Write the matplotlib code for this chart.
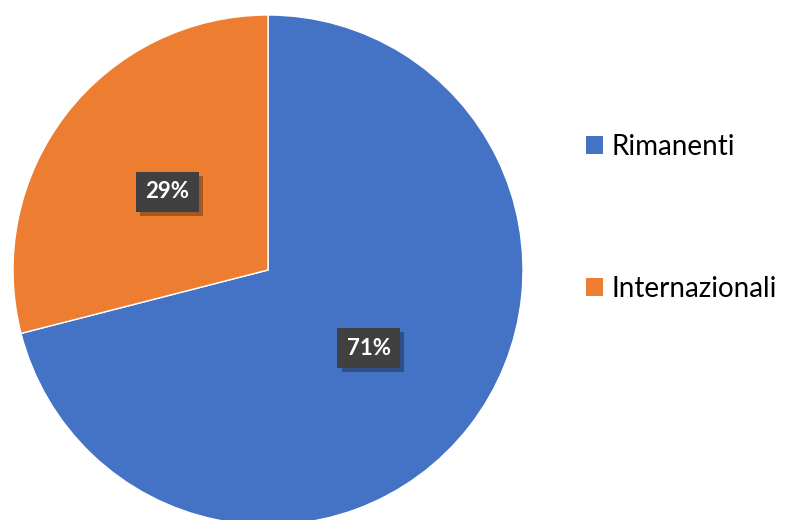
import matplotlib.pyplot as plt
from matplotlib import patheffects
from matplotlib.patches import Patch

labels = ["Rimanenti", "Internazionali"]
shares = [71, 29]
colors = ["#4472C4", "#ED7D31"]

W, H = 795, 520
fig = plt.figure(figsize=(W / 100, H / 100), dpi=100)
fig.patch.set_facecolor("white")
ax = fig.add_axes([0, 0, 1, 1])

wedges, _, autotexts = ax.pie(
    shares,
    colors=colors,
    startangle=90,
    counterclock=False,
    center=(268, 250),
    radius=255,
    autopct="%1.0f%%",
    pctdistance=0.5,
    wedgeprops=dict(edgecolor="white", linewidth=1),
    frame=True,
)
ax.set_xlim(0, W)
ax.set_ylim(0, H)
ax.set_aspect("equal")
ax.axis("off")

for t in autotexts:
    t.set_color("white")
    t.set_fontweight("bold")
    t.set_fontsize(16)
    t.set_fontfamily("Lato")
    t.set_bbox(dict(boxstyle="square,pad=0.42", facecolor="#404040", edgecolor="none"))
    t.get_bbox_patch().set_path_effects([
        patheffects.withSimplePatchShadow(offset=(3, -3), shadow_rgbFace="black", alpha=0.3),
        patheffects.Normal(),
    ])

handles = [Patch(facecolor=c, edgecolor="none") for c in colors]
fig.legend(
    handles, labels,
    loc="center left",
    bbox_to_anchor=(586 / W, 0.581),
    frameon=False,
    borderpad=0,
    borderaxespad=0,
    handlelength=0.62,
    handleheight=0.62,
    handletextpad=0.3,
    labelspacing=4.2,
    prop=dict(family="Lato", size=20),
)

fig.savefig("out.png", dpi=100, facecolor="white")
